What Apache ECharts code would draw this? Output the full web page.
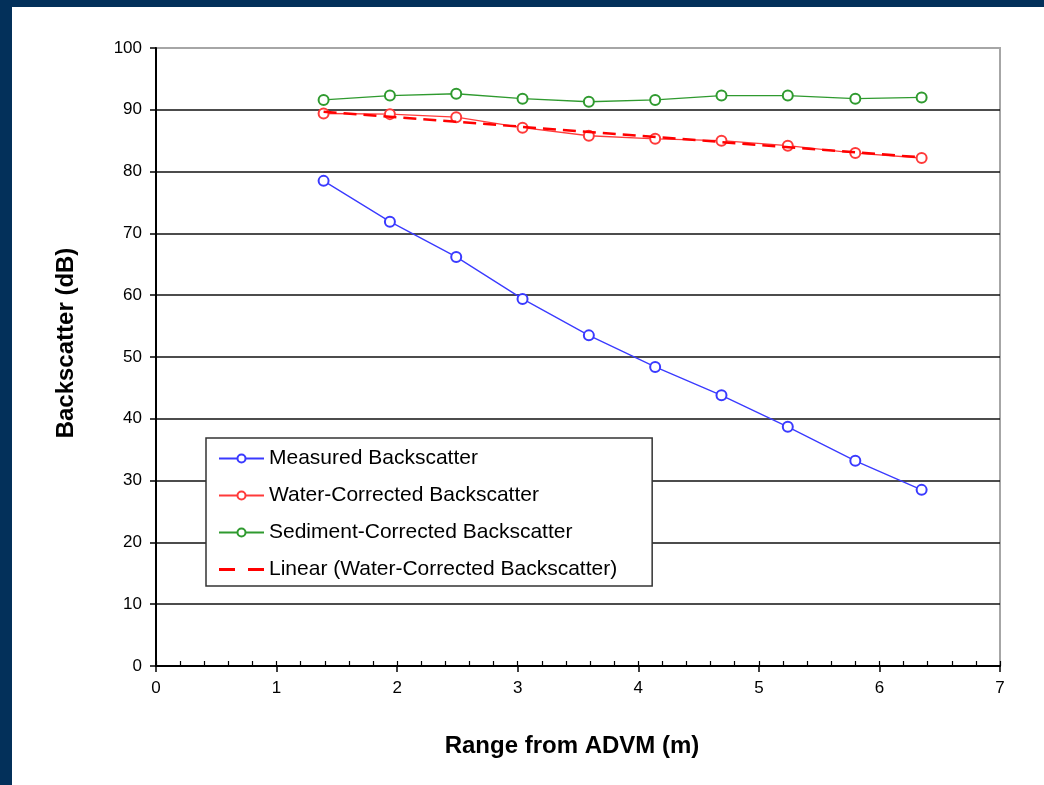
<!DOCTYPE html>
<html>
<head>
<meta charset="utf-8">
<script src="https://cdn.jsdelivr.net/npm/echarts@6/dist/echarts.min.js"></script>
<style>
  html, body { margin: 0; padding: 0; width: 1044px; height: 785px; background: #03305a; overflow: hidden; }
  #chart { position: absolute; left: 12px; top: 7px; width: 1032px; height: 778px; background: #fff; }
</style>
</head>
<body>
<div id="chart"></div>
<script>
// 数据
var rangeM = [1.39, 1.94, 2.49, 3.04, 3.59, 4.14, 4.69, 5.24, 5.80, 6.35];
var measured = [78.5, 71.9, 66.2, 59.4, 53.5, 48.4, 43.8, 38.7, 33.2, 28.5];
var waterCorrected = [89.4, 89.3, 88.8, 87.1, 85.8, 85.3, 85.0, 84.2, 83.0, 82.2];
var sedimentCorrected = [91.6, 92.3, 92.6, 91.8, 91.3, 91.6, 92.3, 92.3, 91.8, 92.0];
// 趋势线两端
var trendX = [1.39, 6.35];
var trendY = [89.7, 82.3];

function pairs(xs, ys) {
    return xs.map(function (x, i) { return [x, ys[i]]; });
}

var font = 'Liberation Sans, Arial, sans-serif';
var myChart = echarts.init(document.getElementById('chart'));

function pointSeries(name, color, values) {
    return {
        name: name,
        type: 'line',
        data: pairs(rangeM, values),
        symbol: 'emptyCircle',
        symbolSize: 10,
        lineStyle: { color: color, width: 1.3 },
        itemStyle: { color: color, borderColor: color, borderWidth: 1.4 },
        z: 3
    };
}

// 图例里的虚线图标
var dashIcon = 'path://M0,0h0.05v0.05h-0.05z M45,10h-0.05v-0.05h0.05z M0,3.5h16v3h-16z M29,3.5h16v3h-16z';

option = {
    animation: false,
    grid: {
        left: 144, top: 41, right: 44, bottom: 119,
        show: true,
        borderColor: '#a6a6a6',
        borderWidth: 2
    },
    legend: {
        orient: 'vertical',
        left: 194, top: 431,
        padding: [10, 35, 6, 12],
        itemWidth: 45, itemHeight: 10, itemGap: 16, itemTextGap: 7,
        backgroundColor: '#fff',
        borderColor: '#333',
        borderWidth: 1.5,
        borderRadius: 0,
        textStyle: { fontFamily: font, fontSize: 21, color: '#000', lineHeight: 20 },
        data: [
            'Measured Backscatter',
            'Water-Corrected Backscatter',
            'Sediment-Corrected Backscatter',
            { name: 'Linear (Water-Corrected Backscatter)', icon: dashIcon }
        ]
    },
    xAxis: [{
        type: 'value',
        min: 0, max: 7, interval: 1,
        name: 'Range from ADVM (m)',
        nameLocation: 'middle',
        nameGap: 68,
        nameTextStyle: { fontFamily: font, fontSize: 24, fontWeight: 'bold', color: '#000', padding: [0, 12, 0, 0] },
        axisLine: { lineStyle: { color: '#000', width: 2 } },
        axisTick: { show: true, inside: false, length: 6, lineStyle: { color: '#000', width: 1.5 } },
        axisLabel: { fontFamily: font, fontSize: 17, color: '#000', margin: 14 },
        splitLine: { show: false }
    }, {
        // 次刻度(朝内)
        type: 'value',
        position: 'bottom',
        min: 0, max: 7, interval: 0.2,
        axisLine: { show: false },
        axisTick: { show: true, inside: true, length: 5, lineStyle: { color: '#000', width: 1.2 } },
        axisLabel: { show: false },
        splitLine: { show: false }
    }],
    yAxis: {
        type: 'value',
        min: 0, max: 100, interval: 10,
        name: 'Backscatter (dB)',
        nameLocation: 'middle',
        nameGap: 78,
        nameTextStyle: { fontFamily: font, fontSize: 24, fontWeight: 'bold', color: '#000', padding: [0, 0, 0, 28] },
        axisLine: { show: true, lineStyle: { color: '#000', width: 2 } },
        axisTick: { show: true, length: 6, lineStyle: { color: '#000', width: 1.5 } },
        axisLabel: { fontFamily: font, fontSize: 17, color: '#000', margin: 14 },
        splitLine: { show: true, showMaxLine: false, showMinLine: false, lineStyle: { color: '#111', width: 1.5 } }
    },
    series: [
        pointSeries('Measured Backscatter', '#3a3aff', measured),
        pointSeries('Water-Corrected Backscatter', '#ff3a3a', waterCorrected),
        pointSeries('Sediment-Corrected Backscatter', '#2f9a2f', sedimentCorrected),
        {
            name: 'Linear (Water-Corrected Backscatter)',
            type: 'line',
            data: pairs(trendX, trendY),
            symbol: 'none',
            lineStyle: { color: '#ff0000', width: 2.5, type: [13, 7] },
            itemStyle: { color: '#ff0000' },
            z: 4
        }
    ]
};
myChart.setOption(option);
</script>
</body>
</html>
